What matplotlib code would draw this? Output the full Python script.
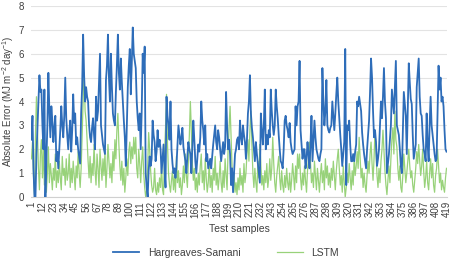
import numpy as np
import matplotlib.pyplot as plt

plt.rcParams["font.family"] = ["Liberation Sans", "DejaVu Sans"]
plt.rcParams["mathtext.default"] = "regular"

# Colors
color_hs = "#2E6DB9"    # Hargreaves-Samani blue
color_lstm = "#98D27A"  # LSTM light green
color_text = "#404040"
color_grid = "#E3E3E3"

# Absolute error per test sample
hargreaves_samani = [
    2.4, 3.4, 1.2, 0.0, 0.0, 1.8, 2.9, 4.0, 5.1, 4.4,
    4.5, 3.0, 2.0, 4.5, 0.0, 1.6, 3.0, 5.2, 3.6, 2.5,
    3.8, 3.2, 2.3, 2.9, 3.4, 1.5, 1.9, 1.2, 2.0, 2.8,
    3.8, 3.0, 2.5, 3.4, 5.0, 3.3, 2.6, 2.0, 2.7, 3.2,
    1.9, 2.8, 4.3, 3.1, 3.5, 2.2, 2.5, 2.0, 1.7, 1.4,
    3.5, 4.6, 6.8, 5.1, 4.0, 4.6, 4.2, 4.0, 3.0, 2.5,
    2.3, 2.9, 3.3, 2.6, 2.0, 4.2, 3.2, 3.6, 4.8, 6.0,
    3.0, 2.6, 2.2, 2.0, 1.8, 4.9, 5.5, 6.8, 5.0, 4.0,
    6.0, 4.6, 3.5, 3.2, 3.0, 4.4, 5.5, 6.8, 5.2, 4.5,
    5.8, 4.8, 4.0, 3.2, 2.5, 1.3, 3.0, 4.6, 5.5, 6.2,
    4.3, 5.6, 7.1, 6.0, 5.7, 5.4, 4.0, 3.3, 2.8, 3.5,
    2.0, 3.6, 6.0, 5.2, 6.3, 1.0, 0.4, 0.0, 1.1, 1.7,
    1.3, 1.6, 3.2, 2.6, 2.3, 1.5, 1.9, 2.8, 2.1, 2.4,
    2.0, 1.0, 1.6, 2.2, 1.2, 0.4, 4.2, 3.4, 3.0, 2.4,
    4.0, 2.0, 1.4, 1.0, 1.2, 0.8, 1.3, 2.2, 3.0, 2.6,
    2.2, 2.5, 2.9, 2.1, 1.8, 1.5, 1.0, 1.7, 2.3, 2.0,
    1.8, 1.0, 2.1, 3.2, 2.4, 1.5, 1.0, 1.6, 2.2, 1.9,
    2.5, 4.0, 3.2, 2.8, 2.2, 3.0, 1.5, 1.8, 1.2, 1.4,
    1.6, 1.2, 1.7, 2.2, 2.6, 3.0, 2.3, 2.0, 2.8, 2.5,
    2.0, 1.5, 1.9, 2.3, 1.8, 2.1, 4.4, 3.0, 2.0, 2.4,
    1.8, 0.5, 1.2, 0.2, 1.0, 1.8, 2.0, 2.4, 2.5, 2.0,
    3.2, 2.5, 2.2, 3.0, 2.6, 2.3, 1.6, 2.4, 3.5, 4.0,
    5.1, 3.5, 2.9, 2.5, 2.0, 1.5, 2.3, 1.8, 1.4, 1.0,
    0.6, 3.5, 2.8, 2.2, 3.0, 4.5, 2.0, 2.6, 2.2, 2.8,
    2.5, 4.5, 3.6, 3.0, 2.6, 3.0, 4.5, 3.8, 3.3, 2.6,
    2.0, 1.5, 1.4, 1.2, 2.0, 3.2, 3.4, 3.0, 2.8, 2.5,
    3.1, 2.3, 2.0, 1.8, 1.9, 2.0, 3.8, 3.0, 3.8, 4.0,
    5.7, 2.8, 2.2, 1.6, 2.0, 2.0, 1.2, 1.6, 2.3, 1.8,
    1.2, 2.2, 3.4, 1.5, 2.4, 3.2, 2.5, 2.0, 1.8, 1.6,
    1.5, 1.8, 2.0, 5.4, 4.0, 3.0, 3.6, 4.9, 3.0, 2.8,
    2.7, 2.9, 3.0, 4.0, 3.4, 2.8, 3.5, 4.3, 5.0, 4.0,
    3.3, 2.6, 2.0, 1.3, 1.8, 2.3, 6.2, 0.5, 3.0, 2.8,
    3.2, 2.2, 1.5, 1.5, 1.8, 1.5, 1.9, 2.2, 4.0, 3.8,
    4.2, 3.9, 3.6, 2.7, 2.2, 1.8, 1.5, 1.2, 2.0, 2.6,
    3.2, 4.4, 5.8, 5.0, 3.6, 2.5, 2.8, 2.3, 1.3, 1.6,
    2.0, 3.0, 4.0, 3.3, 4.2, 5.4, 4.0, 3.3, 1.0, 1.4,
    1.8, 2.4, 3.0, 4.5, 4.0, 3.5, 4.6, 5.7, 3.0, 2.8,
    2.6, 2.0, 1.3, 1.0, 2.8, 4.4, 3.9, 3.4, 1.8, 3.6,
    5.6, 4.8, 4.1, 3.9, 2.6, 1.6, 1.9, 2.2, 4.6, 5.2,
    5.8, 4.2, 3.5, 3.4, 2.6, 2.0, 1.8, 1.5, 3.5, 2.2,
    1.5, 3.0, 4.2, 3.0, 2.6, 2.2, 1.8, 1.5, 1.6, 3.5,
    5.5, 4.5, 5.0, 4.0, 4.2, 3.8, 2.8, 2.0, 1.9,
]

lstm = [
    1.6, 2.3, 0.9, 0.1, 2.6, 4.2, 2.8, 1.2, 0.3, 1.8,
    2.4, 0.8, 2.0, 0.5, 1.3, 0.2, 1.0, 2.1, 0.6, 1.4,
    0.9, 0.3, 1.2, 0.7, 1.8, 0.4, 1.1, 0.6, 1.5, 0.8,
    0.3, 1.7, 0.9, 1.2, 0.5, 1.6, 0.7, 1.0, 1.8, 0.4,
    1.2, 0.6, 1.5, 0.9, 0.3, 1.3, 0.8, 1.9, 1.0, 0.4,
    1.2, 2.6, 4.0, 5.2, 3.6, 3.2, 2.4, 1.5, 0.8, 1.7,
    0.6, 1.4, 0.9, 2.2, 1.1, 0.5, 1.8, 1.2, 0.4, 2.0,
    1.3, 0.7, 1.6, 0.9, 1.9, 0.4, 1.2, 2.2, 1.5, 0.8,
    1.4, 0.6, 1.9, 1.1, 2.4, 1.6, 2.8, 3.5, 2.2, 1.3,
    0.7, 1.5, 0.5, 1.2, 0.2, 0.8, 1.6, 0.9, 1.9, 2.3,
    1.4, 2.1, 1.6, 2.5, 1.8, 2.5, 1.2, 0.8, 2.0, 1.4,
    0.6, 1.5, 2.1, 1.0, 0.4, 0.0, 0.3, 1.2, 2.7, 2.0,
    1.1, 0.5, 0.2, 0.4, 1.2, 0.3, 0.1, 0.6, 0.2, 0.8,
    0.4, 1.3, 0.3, 0.1, 1.8, 2.9, 4.3, 2.2, 1.0, 0.5,
    0.2, 0.7, 1.1, 0.3, 0.9, 0.2, 1.7, 0.6, 1.1, 0.4,
    0.8, 0.1, 0.5, 1.3, 0.6, 1.8, 0.9, 0.4, 1.5, 2.6,
    4.0, 2.8, 1.4, 0.7, 1.2, 0.3, 0.8, 0.2, 1.0, 0.5,
    1.3, 1.8, 0.6, 1.1, 0.3, 1.6, 0.8, 0.2, 0.6, 1.4,
    0.4, 0.9, 0.2, 1.2, 0.7, 1.7, 0.5, 1.0, 0.3, 0.8,
    1.5, 0.6, 0.2, 1.1, 0.4, 1.6, 0.9, 0.3, 2.0, 2.9,
    3.8, 2.5, 1.3, 0.5, 1.0, 0.2, 0.6, 0.1, 0.8, 0.3,
    1.2, 0.5, 0.9, 0.2, 1.4, 0.6, 1.0, 1.8, 2.4, 1.5,
    2.8, 3.6, 2.2, 1.0, 0.4, 1.2, 0.6, 0.2, 1.5, 0.8,
    2.2, 1.3, 0.5, 0.9, 0.3, 1.1, 0.6, 1.4, 0.4, 0.8,
    1.6, 0.7, 1.2, 2.5, 1.4, 0.6, 0.2, 0.9, 1.3, 1.7,
    0.8, 0.3, 1.1, 0.5, 0.2, 0.9, 0.4, 1.2, 0.6, 0.3,
    1.0, 0.2, 0.7, 1.4, 0.9, 0.3, 1.3, 0.6, 1.8, 1.2,
    1.8, 0.8, 0.3, 1.0, 0.5, 1.3, 0.7, 0.2, 1.1, 1.6,
    2.3, 1.4, 0.6, 1.0, 0.4, 1.5, 0.9, 0.3, 1.2, 0.7,
    0.2, 0.9, 1.4, 0.6, 1.1, 0.3, 1.6, 0.8, 1.3, 0.5,
    1.0, 0.4, 1.2, 0.7, 1.5, 0.9, 0.3, 1.1, 1.6, 2.0,
    1.2, 0.5, 0.9, 0.2, 1.3, 0.6, 0.0, 0.4, 1.0, 0.6,
    1.4, 0.8, 0.3, 1.1, 0.5, 1.6, 0.9, 1.3, 1.9, 1.2,
    2.5, 1.6, 0.8, 1.2, 0.4, 1.0, 0.5, 0.2, 0.9, 1.5,
    1.0, 1.8, 2.3, 1.4, 0.7, 1.6, 2.8, 1.8, 0.9, 0.4,
    1.2, 0.6, 1.5, 2.0, 2.8, 1.9, 1.1, 0.5, 0.1, 0.7,
    1.3, 0.6, 1.6, 2.4, 2.9, 1.8, 3.6, 2.4, 2.1, 1.2,
    0.7, 1.3, 0.4, 0.2, 0.9, 1.8, 1.2, 0.6, 1.0, 1.5,
    2.0, 1.3, 0.8, 1.1, 0.5, 0.2, 0.7, 1.2, 1.9, 1.4,
    2.2, 1.5, 0.9, 1.3, 2.0, 1.1, 0.4, 0.8, 1.5, 0.6,
    0.3, 1.0, 1.6, 0.8, 1.4, 0.5, 0.2, 0.9, 1.2, 2.0,
    1.3, 0.6, 1.0, 0.3, 0.7, 0.4, 0.2, 0.8, 1.2,
]

samples = np.arange(1, len(hargreaves_samani) + 1)
tick_samples = samples[::11]

fig = plt.figure(figsize=(4.52, 2.63), dpi=100)
ax = fig.add_axes([31 / 452, 1 - 197 / 263, 416 / 452, 191 / 263])

ax.plot(samples, lstm, color=color_lstm, lw=0.9, label="LSTM", zorder=2)
ax.plot(samples, hargreaves_samani, color=color_hs, lw=1.3,
        label="Hargreaves-Samani", zorder=3)

# Axes
ax.set_xlim(0.5, len(samples) + 0.5)
ax.set_ylim(0, 8)
ax.set_yticks(range(0, 9))
ax.set_xticks(tick_samples)
ax.set_xticklabels([str(s) for s in tick_samples], rotation=90,
                   fontsize=7, color=color_text)
ax.tick_params(axis="y", labelsize=7, colors=color_text, length=0, pad=5)
ax.tick_params(axis="x", length=0, pad=3)

ax.grid(axis="y", color=color_grid, lw=0.8, zorder=0)
ax.set_axisbelow(True)
for side in ["top", "right", "left"]:
    ax.spines[side].set_visible(False)
ax.spines["bottom"].set_color("#D0D0D0")

ax.set_ylabel("Absolute Error (MJ m$^{-2}$ day$^{-1}$)", fontsize=7,
              color=color_text)
ax.yaxis.set_label_coords(-0.036, 0.5)
ax.set_xlabel("Test samples", fontsize=7.5, color=color_text, labelpad=5)

handles, labels = ax.get_legend_handles_labels()
fig.legend(handles[::-1], labels[::-1], loc="lower center",
           bbox_to_anchor=(0.5, -0.015), ncol=2, frameon=False, fontsize=7.5,
           handlelength=2.5, columnspacing=3.5, labelcolor=color_text)

fig.savefig("out.png", dpi=100)
